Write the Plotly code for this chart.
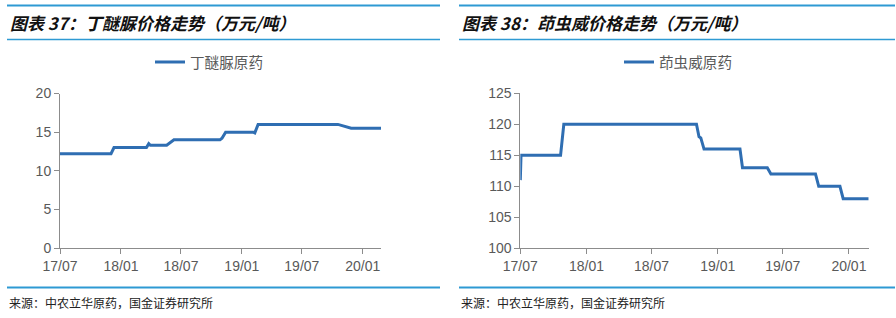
import plotly.graph_objects as go

# ---------------- data ----------------
left_name = "丁醚脲原药"
left_dates = ["2017-07-01", "2017-12-02", "2017-12-11", "2018-03-19", "2018-03-26", "2018-03-31",
              "2018-05-19", "2018-06-10", "2018-10-27", "2018-11-02", "2018-11-13", "2019-02-04",
              "2019-02-09", "2019-02-19", "2019-10-18", "2019-11-27", "2020-02-25"]
left_values = [12.2, 12.2, 13.0, 13.0, 13.5, 13.3,
               13.3, 14.0, 14.0, 14.2, 15.0, 15.0,
               14.9, 16.0, 16.0, 15.5, 15.5]

right_name = "茚虫威原药"
right_dates = ["2017-07-01", "2017-07-03", "2017-10-21", "2017-10-30", "2018-11-03", "2018-11-10",
               "2018-11-15", "2018-11-24", "2019-03-04", "2019-03-11", "2019-05-19", "2019-05-29",
               "2019-09-30", "2019-10-09", "2019-12-07", "2019-12-16", "2020-02-25"]
right_values = [111, 115, 115, 120, 120, 118,
                117.8, 116, 116, 113, 113, 112,
                112, 110, 110, 108, 108]

tick_vals = ["2017-07-01", "2018-01-01", "2018-07-01", "2019-01-01", "2019-07-01", "2020-01-01"]
tick_text = ["17/07", "18/01", "18/07", "19/01", "19/07", "20/01"]

left_title = "图表 37：丁醚脲价格走势（万元/吨）"
right_title = "图表 38：茚虫威价格走势（万元/吨）"
source_text = "来源：中农立华原药，国金证券研究所"

# ---------------- style ----------------
W, H = 896, 318
LINE_COLOR = "#2F6EB2"
HEAD_COLOR = "#2E9AD3"
TICK_COLOR = "#595959"
AXIS_COLOR = "#8C8C8C"
CJK = "Noto Sans CJK SC"
LAT = "Liberation Sans, Arial, " + CJK

def px_x(x):
    return x / W

def px_y(y):
    return (H - y) / H

fig = go.Figure()
fig.add_trace(go.Scatter(x=left_dates, y=left_values, mode="lines", name=left_name,
                         line=dict(color=LINE_COLOR, width=3), xaxis="x", yaxis="y",
                         legend="legend"))
fig.add_trace(go.Scatter(x=right_dates, y=right_values, mode="lines", name=right_name,
                         line=dict(color=LINE_COLOR, width=3), xaxis="x2", yaxis="y2",
                         legend="legend2"))

axis_common = dict(showgrid=False, zeroline=False, showline=True, linecolor=AXIS_COLOR,
                   linewidth=1, ticks="outside", ticklen=5, tickcolor=AXIS_COLOR,
                   automargin=False,
                   tickfont=dict(family=LAT, size=14, color=TICK_COLOR), fixedrange=True)

fig.update_layout(
    width=W, height=H, margin=dict(l=0, r=0, t=0, b=0, autoexpand=False),
    paper_bgcolor="white", plot_bgcolor="white",
    xaxis=dict(domain=[px_x(60), px_x(381)], type="date",
               range=["2017-07-01", "2020-02-25"], tickvals=tick_vals, ticktext=tick_text,
               anchor="y", **axis_common),
    yaxis=dict(domain=[px_y(248), px_y(93.5)], range=[0, 20], tickvals=[0, 5, 10, 15, 20],
               anchor="x", **axis_common),
    xaxis2=dict(domain=[px_x(520.3), px_x(868.7)], type="date",
                range=["2017-07-01", "2020-02-25"], tickvals=tick_vals, ticktext=tick_text,
                anchor="y2", **axis_common),
    yaxis2=dict(domain=[px_y(248.3), px_y(93.3)], range=[100, 125],
                tickvals=[100, 105, 110, 115, 120, 125], anchor="x2", **axis_common),
    legend=dict(x=px_x(150), y=px_y(62), xanchor="left", yanchor="middle",
                font=dict(family=CJK, size=14.6, color=TICK_COLOR), bgcolor="rgba(0,0,0,0)",
                itemwidth=30, tracegroupgap=0),
    legend2=dict(x=px_x(619), y=px_y(62), xanchor="left", yanchor="middle",
                 font=dict(family=CJK, size=14.6, color=TICK_COLOR), bgcolor="rgba(0,0,0,0)",
                 itemwidth=30, tracegroupgap=0),
    showlegend=True,
)

# header / footer rules
shapes = []
for x0, x1 in [(7, 440), (459, 895)]:
    shapes.append(dict(type="line", xref="paper", yref="paper", x0=px_x(x0), x1=px_x(x1),
                       y0=px_y(5.5), y1=px_y(5.5), line=dict(color=HEAD_COLOR, width=2)))
    shapes.append(dict(type="line", xref="paper", yref="paper", x0=px_x(x0), x1=px_x(x1),
                       y0=px_y(39.5), y1=px_y(39.5), line=dict(color=HEAD_COLOR, width=1.5)))
    shapes.append(dict(type="line", xref="paper", yref="paper", x0=px_x(x0), x1=px_x(x1),
                       y0=px_y(287.5), y1=px_y(287.5), line=dict(color=HEAD_COLOR, width=2)))
fig.update_layout(shapes=shapes)

annotations = []
for x0, t in [(8, left_title), (460, right_title)]:
    annotations.append(dict(xref="paper", yref="paper", x=px_x(x0), y=px_y(22.5),
                            xanchor="left", yanchor="middle", showarrow=False,
                            text="<b><i>" + t + "</i></b>",
                            font=dict(family=CJK, size=17, color="#111111")))
    annotations.append(dict(xref="paper", yref="paper", x=px_x(x0 - 1), y=px_y(302.5),
                            xanchor="left", yanchor="middle", showarrow=False,
                            text=source_text,
                            font=dict(family=CJK, size=12, color="#222222")))
fig.update_layout(annotations=annotations)

fig.write_html("out.html")
